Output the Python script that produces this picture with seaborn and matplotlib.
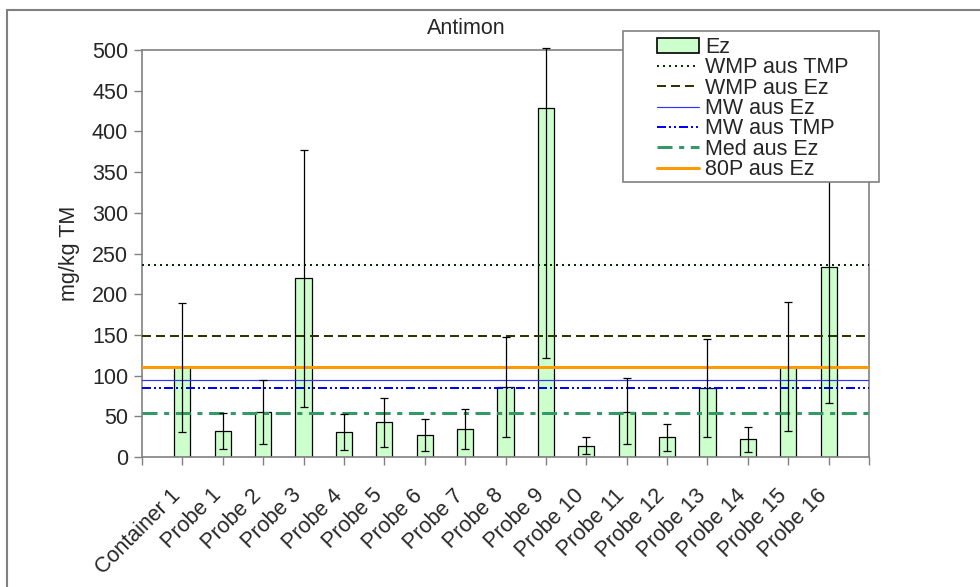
import matplotlib
matplotlib.use("Agg")
import matplotlib.pyplot as plt
from matplotlib.patches import Patch, Rectangle
from matplotlib.lines import Line2D
import matplotlib.transforms as mtransforms
import seaborn as sns
import pandas as pd

categories = ["Container 1", "Probe 1", "Probe 2", "Probe 3", "Probe 4", "Probe 5",
              "Probe 6", "Probe 7", "Probe 8", "Probe 9", "Probe 10", "Probe 11",
              "Probe 12", "Probe 13", "Probe 14", "Probe 15", "Probe 16"]
ez_values = [110, 32, 55, 220, 31, 42.5, 27, 35, 86, 429, 14, 55.5, 24, 84.5, 21.5, 111, 234]
err_low = [79, 22.5, 39, 158, 22.5, 30.5, 19.5, 25, 61.5, 307, 10, 39, 16.5, 60, 15, 79, 167.5]
err_high = [79, 22.5, 39, 157, 22, 30, 19.5, 24.5, 61.5, 74, 10.5, 41, 16.5, 60, 15.5, 80, 167]

ref_names = ["WMP aus TMP", "WMP aus Ez", "MW aus Ez", "MW aus TMP", "Med aus Ez", "80P aus Ez"]
ref_values = [236, 149, 94.5, 84.5, 54.5, 111]

title = "Antimon"
ylabel = "mg/kg TM"
yticks = list(range(0, 501, 50))

sns.set_style("white")
plt.rcParams["font.family"] = ["Liberation Sans", "DejaVu Sans"]
FS = 15.5

fig = plt.figure(figsize=(9.8, 5.87), dpi=100)
ax = fig.add_axes([142/980, 1-457/587, (869-142)/980, (457-50)/587])

df = pd.DataFrame({"cat": categories, "val": ez_values})
sns.barplot(data=df, x="cat", y="val", ax=ax, color="#CCFFCC", saturation=1,
            width=0.4, edgecolor="black", linewidth=0.9, errorbar=None, zorder=2)

ax.errorbar(range(len(categories)), ez_values, yerr=[err_low, err_high], fmt="none",
            ecolor="black", elinewidth=0.9, capsize=3, capthick=0.9, zorder=5, clip_on=False)

px = 0.72
styles = {
    "WMP aus TMP": dict(color="#003300", lw=2*px, ls=(0, (1, 2))),
    "WMP aus Ez": dict(color="#333300", lw=2*px, ls=(0, (4.5, 2.5))),
    "MW aus Ez": dict(color="#3333FF", lw=1.2*px, ls="-"),
    "MW aus TMP": dict(color="#0000FF", lw=2*px, ls=(0, (4.5, 1.5, 1, 1.5, 1, 1.5))),
    "Med aus Ez": dict(color="#339966", lw=3*px, ls=(0, (5, 2.2, 1.7, 2.2))),
    "80P aus Ez": dict(color="#FF9900", lw=3*px, ls="-"),
}
for name, v in zip(ref_names, ref_values):
    ax.axhline(v, zorder=4, **styles[name])

ax.set_xlim(-1, len(categories))
ax.set_ylim(0, 500)
ax.set_yticks(yticks)
ax.set_xticks(range(-1, len(categories) + 1))
ax.set_xticklabels([""] + categories + [""], rotation=45, ha="right",
                   rotation_mode="anchor", va="center", fontsize=FS)
ax.tick_params(axis="y", labelsize=FS, length=6, width=1, color="#808080",
               direction="out", left=True, pad=4)
ax.tick_params(axis="x", length=6, width=1, color="#808080", direction="out",
               bottom=True, pad=19.5)
offset = mtransforms.ScaledTranslation(-5/100, 0, fig.dpi_scale_trans)
for lbl in ax.get_xticklabels():
    lbl.set_transform(lbl.get_transform() + offset)
ax.set_xlabel("")
ax.set_ylabel("")
for s in ax.spines.values():
    s.set_color("#808080")
    s.set_linewidth(1.2)

fig.text(466/980, 1-28/587, title, ha="center", va="center", fontsize=FS)
fig.text(70/980, 1-253/587, ylabel, ha="center", va="center", rotation=90, fontsize=FS)

# legend
handles = [Patch(facecolor="#CCFFCC", edgecolor="black", linewidth=1.2)]
handles += [Line2D([], [], **styles[n]) for n in ref_names]
labels = ["Ez"] + ref_names
leg = fig.legend(handles, labels, loc="upper left", bbox_to_anchor=(657/980, 1-37/587),
                 frameon=False, fontsize=FS, handlelength=1.95, handletextpad=0.28,
                 labelspacing=-0.03, borderpad=0, borderaxespad=0, handleheight=0.7)
fig.patches.append(Rectangle((623/980, 1-182/587), (879-623)/980, (182-31)/587,
                             transform=fig.transFigure, facecolor="white",
                             edgecolor="#808080", linewidth=1.2, zorder=3))
leg.set_zorder(4)

# outer chart border (top and left only)
fig.add_artist(Line2D([7/980, 1], [1-10/587, 1-10/587], color="#808080", lw=1.5,
                      transform=fig.transFigure))
fig.add_artist(Line2D([7/980, 7/980], [0, 1-10/587], color="#808080", lw=1.5,
                      transform=fig.transFigure))

fig.savefig("out.png", dpi=100)
